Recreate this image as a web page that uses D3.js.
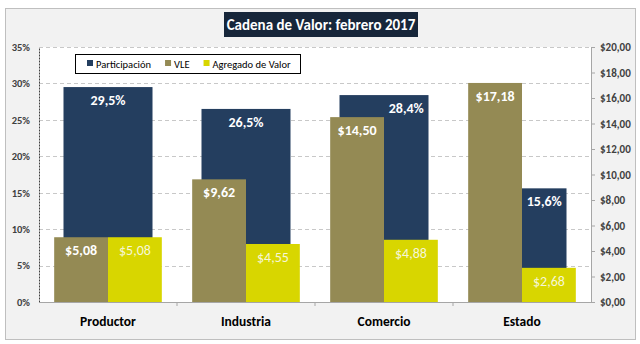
<!DOCTYPE html>
<html>
<head>
    <meta charset="utf-8">
    <title>Cadena de Valor</title>
    <script src="https://d3js.org/d3.v7.min.js"></script>
    <style>
        body {
            margin: 0;
            background-color: #ffffff;
        }
        text {
            font-family: Carlito, Calibri, "Open Sans", "DejaVu Sans", sans-serif;
        }
    </style>
</head>

<body>
    <script>
        var width = 640;
        var height = 344;

        // data
        var categories = ["Productor", "Industria", "Comercio", "Estado"];
        var participacion = [29.5, 26.5, 28.4, 15.6];
        var vle = [5.08, 9.62, 14.50, 17.18];
        var agregado = [5.08, 4.55, 4.88, 2.68];
        var pctTicks = [0, 5, 10, 15, 20, 25, 30, 35];
        var moneyTicks = [0, 2, 4, 6, 8, 10, 12, 14, 16, 18, 20];

        const navy = "#243e5f";
        const olive = "#948a54";
        const yellow = "#d8d600";

        var margin = {left: 39, right: 49, top: 47, bottom: 42};

        var svg = d3.select("body")
            .append("svg")
            .attr("width", width)
            .attr("height", height);

        // outer chart area
        svg.append("rect")
            .attr("x", 5.5).attr("y", 8.5)
            .attr("width", 630).attr("height", 331)
            .attr("fill", "#f2f2f2")
            .attr("stroke", "#bfbfbf");

        var x = d3.scaleBand()
            .domain(categories)
            .range([margin.left, width - margin.right]);

        var yPct = d3.scaleLinear()
            .domain([0, 35])
            .range([height - margin.bottom, margin.top]);

        var yMoney = d3.scaleLinear()
            .domain([0, 20])
            .range([height - margin.bottom, margin.top]);

        // plot area
        svg.append("rect")
            .attr("x", margin.left).attr("y", margin.top)
            .attr("width", width - margin.left - margin.right)
            .attr("height", height - margin.top - margin.bottom)
            .attr("fill", "#ffffff");

        // gridlines
        svg.append("g")
            .selectAll("line")
            .data(pctTicks.slice(1))
            .enter()
            .append("line")
            .attr("x1", margin.left)
            .attr("x2", width - margin.right)
            .attr("y1", d => Math.round(yPct(d)) + 0.5)
            .attr("y2", d => Math.round(yPct(d)) + 0.5)
            .attr("stroke", "#c8c8c8")
            .attr("stroke-dasharray", "4,3");

        var bw = x.bandwidth();
        var navyW = bw * 0.645;
        var subW = bw * 0.39;

        // Participación (primary axis)
        svg.append("g")
            .selectAll("rect")
            .data(participacion)
            .enter()
            .append("rect")
            .attr("x", (d, i) => x(categories[i]) + (bw - navyW) / 2)
            .attr("y", d => yPct(d))
            .attr("width", navyW)
            .attr("height", d => yPct(0) - yPct(d))
            .attr("fill", navy);

        // VLE (secondary axis)
        svg.append("g")
            .selectAll("rect")
            .data(vle)
            .enter()
            .append("rect")
            .attr("x", (d, i) => x(categories[i]) + bw / 2 - subW)
            .attr("y", d => yMoney(d))
            .attr("width", subW)
            .attr("height", d => yMoney(0) - yMoney(d))
            .attr("fill", olive);

        // Agregado de Valor (secondary axis)
        svg.append("g")
            .selectAll("rect")
            .data(agregado)
            .enter()
            .append("rect")
            .attr("x", (d, i) => x(categories[i]) + bw / 2)
            .attr("y", d => yMoney(d))
            .attr("width", subW)
            .attr("height", d => yMoney(0) - yMoney(d))
            .attr("fill", yellow);

        var fmtPct = d => d.toFixed(1).replace(".", ",") + "%";
        var fmtMoney = d => "$" + d.toFixed(2).replace(".", ",");

        // labels for Participación; moved to the visible part when VLE hides the bar
        svg.append("g")
            .selectAll("text")
            .data(participacion)
            .enter()
            .append("text")
            .attr("x", function (d, i) {
                var left = x(categories[i]) + (bw - navyW) / 2;
                var right = left + navyW;
                if (vle[i] / 20 > d / 35 - 0.1) {
                    left = x(categories[i]) + bw / 2;
                }
                return (left + right) / 2;
            })
            .attr("y", d => yPct(d) + 18)
            .attr("text-anchor", "middle")
            .attr("font-size", 14)
            .attr("font-weight", "bold")
            .attr("fill", "#ffffff")
            .text(fmtPct);

        svg.append("g")
            .selectAll("text")
            .data(vle)
            .enter()
            .append("text")
            .attr("x", (d, i) => x(categories[i]) + bw / 2 - subW / 2)
            .attr("y", d => yMoney(d) + 18)
            .attr("text-anchor", "middle")
            .attr("font-size", 14)
            .attr("font-weight", "bold")
            .attr("fill", "#ffffff")
            .text(fmtMoney);

        svg.append("g")
            .selectAll("text")
            .data(agregado)
            .enter()
            .append("text")
            .attr("x", (d, i) => x(categories[i]) + bw / 2 + subW / 2)
            .attr("y", d => yMoney(d) + 18)
            .attr("text-anchor", "middle")
            .attr("font-size", 14)
            .attr("fill", "#f6f6d8")
            .text(fmtMoney);

        // left axis
        var leftAxis = svg.append("g")
            .attr("transform", "translate(" + margin.left + ",0)")
            .call(d3.axisLeft(yPct).tickValues(pctTicks).tickSize(0).tickPadding(9)
                .tickFormat(d => d + "%"));
        leftAxis.select(".domain")
            .attr("stroke", "#404040")
            .attr("stroke-dasharray", "2,1");
        leftAxis.selectAll("text")
            .attr("font-size", 10.5)
            .attr("font-weight", "bold")
            .attr("fill", "#404040");

        // right axis
        var rightAxis = svg.append("g")
            .attr("transform", "translate(" + (width - margin.right) + ",0)")
            .call(d3.axisRight(yMoney).tickValues(moneyTicks).tickSize(4).tickPadding(5)
                .tickFormat(d => "$" + d.toFixed(2).replace(".", ",")));
        rightAxis.select(".domain").attr("stroke", "#a6a6a6");
        rightAxis.selectAll("line").attr("stroke", "#a6a6a6");
        rightAxis.selectAll("text")
            .attr("font-size", 11)
            .attr("font-weight", "bold")
            .attr("fill", "#404040");

        // bottom axis
        var bottomAxis = svg.append("g")
            .attr("transform", "translate(0," + (height - margin.bottom) + ")")
            .call(d3.axisBottom(x).tickSize(0).tickPadding(14));
        bottomAxis.select(".domain").attr("stroke", "#a6a6a6");
        bottomAxis.selectAll("text")
            .attr("font-size", 13.5)
            .attr("font-weight", "bold")
            .attr("fill", "#000000");
        bottomAxis.append("g")
            .selectAll("line")
            .data(categories.slice(1))
            .enter()
            .append("line")
            .attr("x1", d => x(d))
            .attr("x2", d => x(d))
            .attr("y1", 0)
            .attr("y2", 4)
            .attr("stroke", "#a6a6a6");

        // title
        var title = svg.append("g");
        title.append("rect")
            .attr("x", 224).attr("y", 12)
            .attr("width", 194).attr("height", 25)
            .attr("fill", "#17263a");
        title.append("text")
            .attr("x", 321).attr("y", 30)
            .attr("text-anchor", "middle")
            .attr("font-size", 15)
            .attr("font-weight", "bold")
            .attr("fill", "#ffffff")
            .text("Cadena de Valor: febrero 2017");

        // legend
        var legendItems = [
            {name: "Participación", color: navy},
            {name: "VLE", color: olive},
            {name: "Agregado de Valor", color: yellow}
        ];
        var legend = svg.append("g");
        legend.append("rect")
            .attr("x", 75.5).attr("y", 54.5)
            .attr("width", 225).attr("height", 19)
            .attr("fill", "#ffffff")
            .attr("stroke", "#000000");
        var lx = 87;
        legendItems.forEach(function (item) {
            legend.append("rect")
                .attr("x", lx).attr("y", 60)
                .attr("width", 6).attr("height", 6)
                .attr("fill", item.color);
            var t = legend.append("text")
                .attr("x", lx + 9).attr("y", 67.5)
                .attr("font-size", 10.5)
                .attr("fill", "#000000")
                .text(item.name);
            lx += t.node().getComputedTextLength() + 23;
        });
    </script>
</body>

</html>
